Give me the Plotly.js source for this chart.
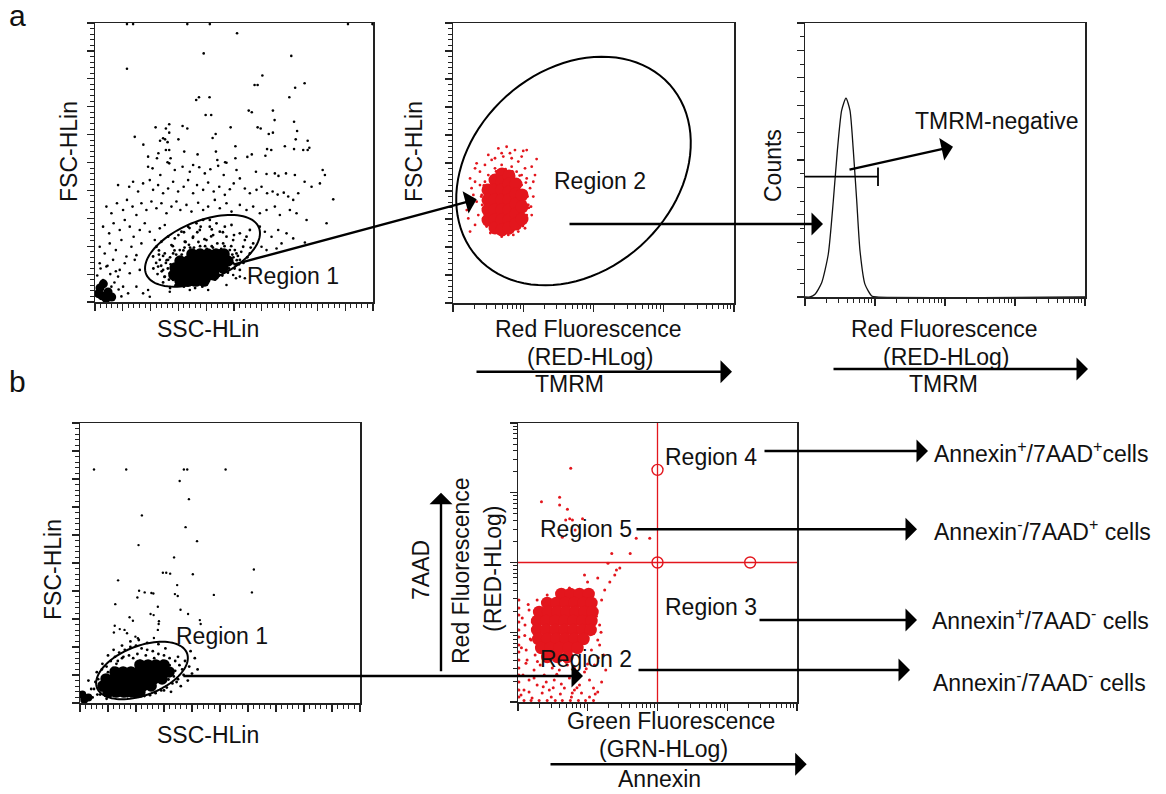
<!DOCTYPE html>
<html><head><meta charset="utf-8">
<script src="https://cdn.plot.ly/plotly-3.0.1.min.js"></script>
<style>html,body{margin:0;padding:0;background:#fff}#chart{width:1166px;height:794px}</style>
</head><body><div id="chart"></div>
<script>
// ---------------- DATA ----------------
// Panel a1: SSC-HLin (x) vs FSC-HLin (y), linear 0-1000
const a1TopX = [511,391,706,115,602,574,585,754,720,364,374,412,699,553,564,640,398,418,646,716,218,267,255,315,332,488,585,596,727,267,434,625,640,143,245,252,300,423,722,765,234,261,174,505,683,771,255,267,321,435,619,634,716,749,765,228,369,564,613,191,223,272,440,505,548,261,468,115,137,332,413,910,998];
const a1TopY = [963,891,882,836,812,778,778,784,768,724,734,734,734,686,680,686,670,670,652,646,626,637,622,631,622,626,626,622,613,607,602,602,607,592,587,583,583,588,583,578,578,573,564,558,558,553,545,545,539,539,548,545,548,545,545,533,529,529,524,521,515,515,509,515,520,501,501,996,996,996,996,996,996];
const a1SparseX = [191,207,235,267,287,315,341,353,375,395,415,443,463,473,509,521,579,617,647,660,687,719,754,819,827,
83,123,137,155,173,197,209,227,245,263,281,299,319,335,353,367,389,407,427,447,467,485,499,539,557,581,599,619,639,657,679,695,713,731,779,809,857,
41,59,79,101,115,135,149,167,185,203,221,239,257,275,293,307,329,347,371,389,407,431,449,473,491,521,545,569,593,617,647,665,701,725,761,833,
29,51,67,89,107,125,139,161,179,197,215,233,251,593,611,635,659,689,713,755,
17,35,53,75,95,113,131,149,167,599,617,653,671,
17,41,65,89,107,125,143,161,497,521,539,
29,59,83,101,119,149,173,191,197,269,341,407,473,507,
8,70,85,55,20,95,75,45];
const a1SparseY = [485,479,455,497,473,485,467,491,483,461,476,488,455,499,473,443,467,459,461,452,461,455,431,473,455,
419,413,431,396,425,437,402,419,390,407,431,396,413,437,390,419,402,428,396,413,384,404,425,407,390,402,413,390,396,385,392,378,366,390,413,425,368,
342,318,354,330,366,342,312,354,330,360,336,354,318,342,360,330,348,324,356,330,342,366,336,354,324,348,330,342,318,330,342,312,330,318,294,282,
270,246,282,258,294,270,234,258,282,252,222,264,276,270,252,234,258,246,228,213,
198,174,210,186,222,163,198,168,210,198,186,192,210,
139,127,151,115,139,103,151,115,97,91,85,
79,55,91,55,31,55,31,43,19,37,43,43,61,85,
95,70,45,100,120,20,110,130];
const a1GateX = [221,239,251,263,275,287,293,305,311,323,335,341,353,365,377,389,401,413,425,437,449,461,473,485,497,509,521,533,545,557,569,233,245,269,281,317,353,389,425,449,473,497,209,227,251,305,413,467,491,521,539,557,407,329,365,263,281,311,521,503,
255,262,270,278,286,296,304,312,322,330,338,346,356,364,372,380,388,396,404,412,420,430,438,446,454,462,470,478,486,494,502,510,518,245,238,230,290,320,360,400,
240,250,258,266,272,280,292,300,318,326,334,342,352,358,368,378,386,394,402,410,418,424,432,440,448,458,466,474,482,490,498,506,514,526,534,548,560,300,320,340,380,420,460,500,230,220,210,225,245,270];
const a1GateY = [198,216,174,151,204,228,127,186,252,216,270,79,234,282,258,294,222,270,240,282,252,210,234,186,222,174,151,198,234,174,210,151,115,103,79,67,61,67,91,115,127,139,163,127,91,91,294,270,276,246,222,258,139,151,127,234,174,127,115,186,
140,120,160,100,185,150,110,170,195,85,205,175,195,95,215,180,75,200,160,90,200,120,175,95,190,130,160,105,145,170,120,150,135,165,130,185,60,55,50,70,
110,90,150,80,135,200,170,60,185,215,60,195,230,70,250,200,55,225,190,75,235,195,80,210,185,95,200,150,120,200,160,135,165,180,140,160,195,240,250,265,270,260,250,240,170,140,120,100,70,50];
const a1CoreX = [349,378,406,435,464, 306,335,363,392,421,450,478, 288,317,345,374,403,432,460, 284,313,342,371,399,428, 306,335,363,392];
const a1CoreY = [172,172,172,172,172, 147,147,147,147,147,147,147, 122,122,122,122,122,122,122, 97,97,97,97,97,97, 75,75,75,75];
const a1DebrisX = [25,47,18,40,12,60,30];
const a1DebrisY = [22,36,50,12,30,18,65];

// Panel a2: Red fluorescence (RED-HLog, log) vs FSC-HLin
const a2SparseX = [4.42,5.80,7.62,10.0,11.2,15.5,3.18,3.55,2.85,2.17,2.06,2.42,13.2,14.7,11.2,12.5,13.9,12.9,11.2,10.0,8.50,6.13,4.42,3.55,3.01,1.84,1.75,1.57,1.65,1.75,2.06,2.29,2.17,2.56,2.42,3.96,5.20,6.84,8.50,10.6,3.18,2.85,11.8,9.49,8.05,5.50,3.96,2.70,1.95,2.06,4.93,6.47,9.49,13.9,13.2,10.6,7.22,4.93,3.18,
2.85,2.70,3.18,9.49,10.0,10.6,8.98,7.62,6.13,3.96,6.84,4.93,3.36,3.01,9.49,4.42,8.05,3.55,
2.60,2.75,2.52,2.90,11.0,11.5,10.9,12.0,4.1,5.6,7.0,8.9,3.4,9.9,6.5,4.7];
const a2SparseY = [552,558,546,543,546,514,529,511,493,499,481,469,487,457,445,410,380,344,314,285,255,243,249,255,273,410,445,332,302,255,279,314,362,386,421,517,523,517,505,481,457,433,350,326,302,261,279,338,386,433,535,535,523,433,314,267,243,237,302,
398,302,362,457,392,362,344,279,267,481,487,493,326,421,421,267,469,386,
350,420,380,300,300,380,430,340,470,478,470,455,250,275,250,252];
const a2CoreX = [3.15,3.15,3.15,3.15, 3.96,3.96,3.96,3.96,3.96,3.96, 4.98,4.98,4.98,4.98,4.98,4.98,4.98, 6.27,6.27,6.27,6.27,6.27,6.27,6.27, 7.88,7.88,7.88,7.88,7.88, 9.60,9.60,9.60];
const a2CoreY = [404,368,332,296, 439,404,368,332,296,268, 461,432,404,368,332,296,261, 454,425,396,368,332,296,268, 425,389,354,318,282, 386,343,300];

// Panel a3: histogram of RED-HLog
const a3X = [1,1.18,1.39,1.73,2.15,2.54,2.90,3.34,3.85,4.39,4.90,5.48,6.11,7.2,8.97,10.5,10000];
const a3Y = [0,0,10,52,156,352,535,681,726,681,535,352,168,46,4,0,0];

// Panel b1: SSC-HLin vs FSC-HLin
const b1SparseX = [50,165,371,383,520,356,389,221,377,209,418,336,621,296,308,322,403,136,347,211,231,255,262,205,339,349,478,614,126,278,359,252,263,386,177,189,282,281,428,431,124,142,159,121,168,198,207,264,278];
const b1SparseY = [834,834,834,834,834,793,728,670,628,564,578,520,477,465,465,462,460,438,421,401,395,393,391,377,389,382,386,395,353,344,333,318,314,318,306,294,292,282,296,282,276,264,261,252,249,237,231,232,261];
const b1GateX = [70,85,95,110,125,140,160,180,200,220,240,260,280,300,320,340,355,365,370,350,330,310,290,270,250,230,200,170,140,110,90,75,100,130,150,175,205,235,265,295,320,340,335,316,62,55,45,350,375,390,400,385,360,240,210,180,150,120,100,80,60,40,30,410,420,395,280,305,
65,78,88,118,135,155,190,215,250,285,310,330,345,300,325,50,72,95];
const b1GateY = [60,95,130,150,165,180,190,200,205,195,190,185,175,170,160,150,135,120,100,85,70,55,45,35,28,25,22,24,28,32,40,45,110,140,160,170,175,170,160,150,135,115,95,84,30,75,20,165,150,130,105,80,60,215,225,220,205,190,170,140,110,50,80,160,120,185,210,195,
85,120,70,125,150,165,160,150,145,140,125,110,75,45,40,50,30,15];
const b1CoreX = [214,243,271,300, 125,154,182,211,239,268,296,318, 93,121,150,179,207,236,264,293, 82,111,139,168,196,225,254, 100,129,157,186,214];
const b1CoreY = [136,136,136,136, 111,111,111,111,111,111,111,111, 86,86,86,86,86,86,86,86, 61,61,61,61,61,61,61, 39,39,39,39,39];
const b1DebrisX = [15,30,8];
const b1DebrisY = [12,20,30];

// Panel b2: GRN-HLog (Annexin) vs RED-HLog (7AAD), both log
const b2SparseX = [1.03,1.03,1.03,1.03,1.03,1.03,1.03,1.03,1.03,1.03,1.03,1.03,1.03,1.03,
1.22,1.54,2.01,2.62,3.42,4.32,5.64,7.36,9.29,12.1,
1.22,1.44,1.70,1.35,1.88,2.38,2.81,3.31,3.91,4.62,5.46,6.44,7.61,8.99,10.6,12.5,11.3,13.9,14.8,13.0,10.6,7.61,5.46,3.91,2.62,1.88,1.44,1.26,1.54,1.31,15.8,17.5,20.7,13.9,9.93,24.4,28.8,8.99,
1.105,1.59,2.22,3.00,4.05,5.83,8.13,10.6,13.9,1.18,2.08,2.54,3.10,4.18,5.11,7.12,9.93,12.1,1.76,1.44,6.44,15.8,18.1,16.9,14.8,
5.70,2.17,3.95,3.95,5.11,4.83,5.51,6.03,8.41,4.32,6.59,49.5,77.4,22.1,40.6,19.5,25.8,
1.15,1.25,1.4,1.6,1.12,1.3,1.5,1.7,1.9,2.3,3.6,4.9,7.0,9.5,12.8,14.2,15.5,13.3,6.0,3.2];
const b2SparseY = [29,22.3,17.7,14.0,10.8,8.55,6.56,5.21,4.00,3.07,2.44,1.94,1.49,1.18,
1.05,1.05,1.05,1.05,1.05,1.05,1.05,1.05,1.05,1.05,
1.49,2.07,2.88,4.00,1.75,2.44,1.49,2.07,2.88,1.59,2.21,3.07,1.75,2.69,2.07,3.39,5.57,7.74,12.7,20.8,34.2,40.3,43.1,37.8,34.2,29.0,20.8,12.7,7.74,5.57,29.0,40.3,52.5,60.0,52.5,66.2,83.4,66.2,
1.26,1.14,1.35,1.18,1.30,1.18,1.35,1.18,1.39,2.44,3.39,1.94,3.07,1.81,3.39,2.36,3.51,1.59,4.72,1.39,1.49,1.94,2.88,4.72,6.56,
2244,744,861,667,579,407,425,407,425,230,292,222,222,135,135,97.5,78,
16,9,25,14,6,3.6,8,2.2,3.8,1.65,2.5,3.7,1.6,3.0,1.3,4.3,10,17,1.35,1.6];
const b2CoreX = [4.18,5.64,7.61,10.3, 2.62,3.54,4.78,6.44,8.70,11.3, 2.01,2.71,3.66,4.94,6.66,8.99,11.7, 1.88,2.54,3.43,4.62,6.23,8.41,11.3, 1.88,2.54,3.43,4.62,6.23,8.41,11.0, 1.95,2.62,3.54,4.78,6.44,8.70, 2.15,2.90,3.91,5.28,7.12, 2.62,3.66,5.11];
const b2CoreY = [35.3,35.3,35.3,35.3, 26.3,26.3,26.3,26.3,26.3,26.3, 19.5,19.5,19.5,19.5,19.5,19.5,19.5, 14.5,14.5,14.5,14.5,14.5,14.5,14.5, 10.8,10.8,10.8,10.8,10.8,10.8,10.8, 8.00,8.00,8.00,8.00,8.00,8.00, 5.95,5.95,5.95,5.95,5.95, 4.42,4.42,4.42];
const b2QuadX = 100;   // Annexin gate
const b2QuadY = 100;   // 7AAD gate
const b2HandleX = [100,100,2130];
const b2HandleY = [2130,100,100];

// ---------------- LAYOUT HELPERS ----------------
const W = 1166, H = 794;
const FONT = 'Liberation Sans, Arial, Helvetica, sans-serif';
const FS = 23;
const RED = '#e3161d';
const INK = '#111111';
const px = p => p / W;
const py = p => 1 - p / H;

function linAxis(x0, x1, minorStep, vertical) {
  return {
    domain: vertical ? [py(x1), py(x0)] : [px(x0), px(x1)],
    range: [0, 1000], autorange: false, fixedrange: true,
    showline: true, mirror: true, linecolor: '#222', linewidth: 1.5,
    ticks: 'outside', ticklen: 7, tickwidth: 1.2, tickcolor: '#222',
    tick0: 0, dtick: 100, showticklabels: false, showgrid: false, zeroline: false,
    minor: {dtick: minorStep, tick0: 0, ticks: 'outside', ticklen: 4, tickwidth: 1, tickcolor: '#222', showgrid: false}
  };
}
const logMinor = [];
for (let d = 0; d < 4; d++) for (let m = 2; m <= 9; m++) logMinor.push(m * Math.pow(10, d));
function logAxis(x0, x1, vertical) {
  return {
    type: 'log', domain: vertical ? [py(x1), py(x0)] : [px(x0), px(x1)],
    range: [0, 4], autorange: false, fixedrange: true,
    showline: true, mirror: true, linecolor: '#222', linewidth: 1.5,
    ticks: 'outside', ticklen: 7, tickwidth: 1.2, tickcolor: '#222',
    tickmode: 'array', tickvals: [1, 10, 100, 1000, 10000],
    showticklabels: false, showgrid: false, zeroline: false,
    minor: {tickmode: 'array', tickvals: logMinor, ticks: 'outside', ticklen: 4, tickwidth: 1, tickcolor: '#222', showgrid: false}
  };
}
function pts(x, y, xa, ya, color, size) {
  return {type: 'scatter', mode: 'markers', x: x, y: y, xaxis: xa, yaxis: ya, hoverinfo: 'skip',
    marker: {color: color, size: size, line: {width: 0}}};
}
function T(text, x, y, opt) {
  opt = opt || {};
  return {text: text, xref: 'paper', yref: 'paper', x: px(x), y: py(y),
    xanchor: opt.xanchor || 'center', yanchor: 'middle', showarrow: false,
    textangle: opt.angle || 0, font: {family: FONT, size: opt.size || FS, color: INK}};
}
function A(tipX, tipY, tailX, tailY) {
  return {text: '', xref: 'paper', yref: 'paper', x: px(tipX), y: py(tipY),
    axref: 'pixel', ayref: 'pixel', ax: tailX - tipX, ay: tailY - tipY,
    showarrow: true, arrowhead: 1, arrowsize: 1.6, arrowwidth: 2.4, arrowcolor: '#000', standoff: 0};
}
function ellipse(cx, cy, a, b, deg) {
  const th = deg * Math.PI / 180; let s = '';
  for (let i = 0; i <= 96; i++) {
    const t = 2 * Math.PI * i / 96;
    const ex = cx + a * Math.cos(t) * Math.cos(th) - b * Math.sin(t) * Math.sin(th);
    const ey = cy - (a * Math.cos(t) * Math.sin(th) + b * Math.sin(t) * Math.cos(th));
    s += (i ? 'L' : 'M') + px(ex).toFixed(5) + ',' + py(ey).toFixed(5);
  }
  return {type: 'path', xref: 'paper', yref: 'paper', path: s + 'Z', line: {color: '#000', width: 2}};
}
function seg(x0, y0, x1, y1, w) {
  return {type: 'line', xref: 'paper', yref: 'paper', x0: px(x0), y0: py(y0), x1: px(x1), y1: py(y1), line: {color: '#000', width: w || 2}};
}

// ---------------- TRACES ----------------
const traces = [
  pts(a1TopX, a1TopY, 'x', 'y', '#000', 2.6),
  pts(a1SparseX, a1SparseY, 'x', 'y', '#000', 2.6),
  pts(a1GateX, a1GateY, 'x', 'y', '#000', 2.8),
  pts(a1CoreX, a1CoreY, 'x', 'y', '#000', 11.5),
  pts(a1DebrisX, a1DebrisY, 'x', 'y', '#000', 9),

  pts(a2SparseX, a2SparseY, 'x2', 'y2', RED, 2.8),
  pts(a2CoreX, a2CoreY, 'x2', 'y2', RED, 13),

  {type: 'scatter', mode: 'lines', x: a3X, y: a3Y, xaxis: 'x3', yaxis: 'y3', hoverinfo: 'skip',
   line: {color: '#111', width: 1.3, shape: 'spline', smoothing: 0.6}},

  pts(b1SparseX, b1SparseY, 'x4', 'y4', '#000', 2.4),
  pts(b1GateX, b1GateY, 'x4', 'y4', '#000', 2.8),
  pts(b1CoreX, b1CoreY, 'x4', 'y4', '#000', 11.5),
  pts(b1DebrisX, b1DebrisY, 'x4', 'y4', '#000', 8),

  pts(b2SparseX, b2SparseY, 'x5', 'y5', RED, 3),
  pts(b2CoreX, b2CoreY, 'x5', 'y5', RED, 12.5),
  {type: 'scatter', mode: 'lines', x: [b2QuadX, b2QuadX], y: [1, 10000], xaxis: 'x5', yaxis: 'y5', hoverinfo: 'skip', line: {color: RED, width: 1.3}},
  {type: 'scatter', mode: 'lines', x: [1, 10000], y: [b2QuadY, b2QuadY], xaxis: 'x5', yaxis: 'y5', hoverinfo: 'skip', line: {color: RED, width: 1.3}},
  {type: 'scatter', mode: 'markers', x: b2HandleX, y: b2HandleY, xaxis: 'x5', yaxis: 'y5', hoverinfo: 'skip', cliponaxis: false,
   marker: {symbol: 'circle-open', size: 11, color: RED, line: {color: RED, width: 1.4}}}
];

// ---------------- LAYOUT ----------------
const layout = {
  width: W, height: H, margin: {l: 0, r: 0, t: 0, b: 0},
  paper_bgcolor: '#fff', plot_bgcolor: '#fff', showlegend: false,
  font: {family: FONT, color: INK},
  xaxis: Object.assign(linAxis(95, 373, 20, false), {anchor: 'y'}),
  yaxis: Object.assign(linAxis(23, 302, 20, true), {anchor: 'x'}),
  xaxis2: Object.assign(logAxis(453, 734, false), {anchor: 'y2'}),
  yaxis2: Object.assign(linAxis(23, 303, 20, true), {anchor: 'x2'}),
  xaxis3: Object.assign(logAxis(805, 1085, false), {anchor: 'y3'}),
  yaxis3: Object.assign(linAxis(23, 297, 50, true), {anchor: 'x3'}),
  xaxis4: Object.assign(linAxis(80, 360, 20, false), {anchor: 'y4'}),
  yaxis4: Object.assign(linAxis(423, 703, 20, true), {anchor: 'x4'}),
  xaxis5: Object.assign(logAxis(518, 797, false), {anchor: 'y5'}),
  yaxis5: Object.assign(logAxis(423, 702, true), {anchor: 'x5'}),
  shapes: [
    ellipse(202.5, 250.8, 61, 29.5, 22.5),
    ellipse(573.5, 171, 129.3, 100.5, 42),
    ellipse(142, 670.5, 48.2, 24.6, 21),
    seg(805, 176.7, 878, 176.7, 1.8),
    seg(878, 167.5, 878, 186, 1.8)
  ],
  annotations: [
    T('a', 17, 16, {size: 30}),
    T('b', 17, 381, {size: 30}),
    // a1
    T('FSC-HLin', 69, 152, {angle: -90}),
    T('SSC-HLin', 208, 329),
    T('Region 1', 293, 276),
    // a2
    T('FSC-HLin', 414, 152, {angle: -90}),
    T('Region 2', 600, 181),
    T('Red Fluorescence', 588, 329),
    T('(RED-HLog)', 590, 357),
    T('TMRM', 569, 384),
    // a3
    T('Counts', 773, 166, {angle: -90}),
    T('TMRM-negative', 997, 121),
    T('Red Fluorescence', 944, 329),
    T('(RED-HLog)', 946, 357),
    T('TMRM', 943, 384),
    // b1
    T('FSC-HLin', 53, 570, {angle: -90}),
    T('SSC-HLin', 208, 735),
    T('Region 1', 222, 636),
    // b2
    T('7AAD', 421, 570, {angle: -90}),
    T('Red Fluorescence', 461, 571, {angle: -90}),
    T('(RED-HLog)', 493, 569, {angle: -90}),
    T('Green Fluorescence', 671, 721),
    T('(GRN-HLog)', 663, 749),
    T('Annexin', 659, 779),
    T('Region 4', 711, 457),
    T('Region 5', 586, 529),
    T('Region 3', 711, 607),
    T('Region 2', 586, 659),
    T('Annexin<sup>+</sup>/7AAD<sup>+</sup>cells', 932, 452, {xanchor: 'left'}),
    T('Annexin<sup>-</sup>/7AAD<sup>+</sup> cells', 932, 530, {xanchor: 'left'}),
    T('Annexin<sup>+</sup>/7AAD<sup>-</sup> cells', 930, 619, {xanchor: 'left'}),
    T('Annexin<sup>-</sup>/7AAD<sup>-</sup> cells', 931, 681, {xanchor: 'left'}),
    // arrows
    A(476.7, 199.3, 232, 265),
    A(823, 224, 568, 224),
    A(953, 146.7, 848, 170),
    A(732, 371.7, 475, 371.7),
    A(1088, 369, 832, 369),
    A(583, 676, 182, 676),
    A(441, 492.7, 441, 672.7),
    A(806.7, 764.3, 549, 764.3),
    A(928, 451, 763, 451),
    A(917, 529.3, 635, 529.3),
    A(917, 620, 758, 620),
    A(910, 670, 637, 670)
  ]
};

Plotly.newPlot('chart', traces, layout, {staticPlot: true, displayModeBar: false});
</script></body></html>
